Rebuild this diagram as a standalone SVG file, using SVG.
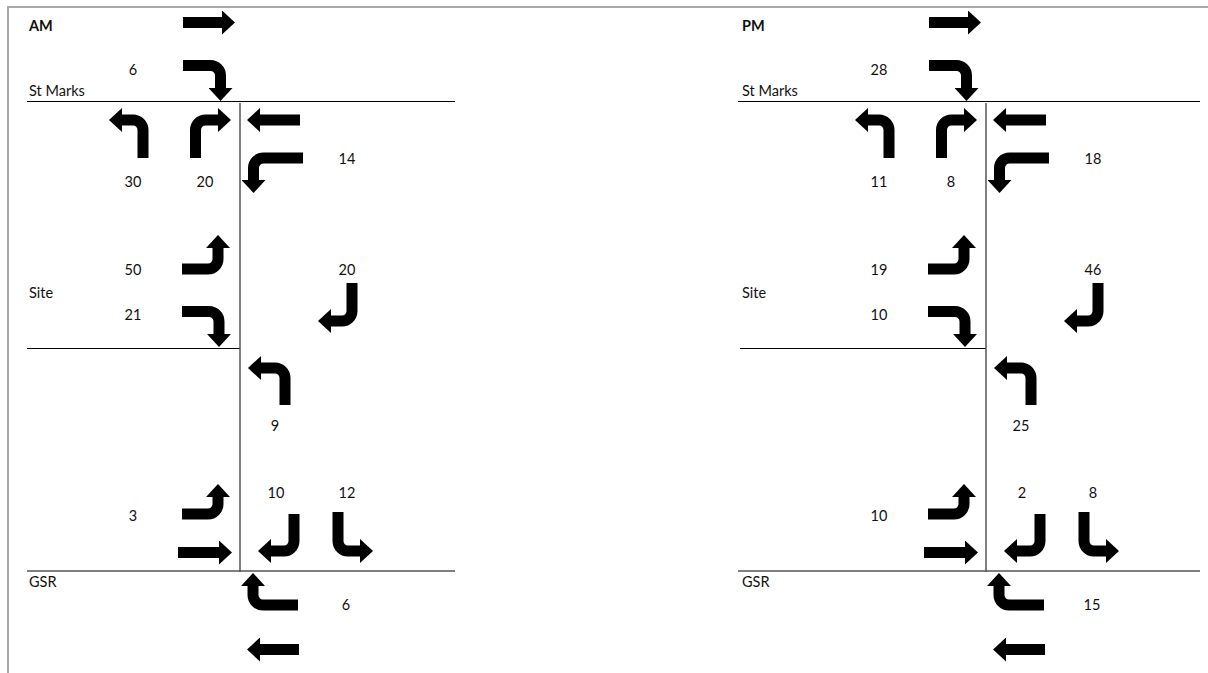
<svg xmlns="http://www.w3.org/2000/svg" width="1208" height="673" viewBox="0 0 1208 673">
<style>
.arr{fill:none;stroke:#000;stroke-width:11;stroke-linejoin:round;marker-end:url(#h)}
.road{stroke:#000;stroke-width:1.2}
.vroad{stroke:#555;stroke-width:1.5}
text{font-family:Lato,"Open Sans","Liberation Sans",sans-serif;font-size:14.5px;fill:#111}
.n{text-anchor:middle}
.t{font-weight:bold}
</style>
<defs>
<marker id="h" markerUnits="userSpaceOnUse" viewBox="0 0 13 24" markerWidth="13" markerHeight="24" refX="0" refY="12" orient="auto">
<path d="M0,0 L13,12 L0,24 z" fill="#000"/>
</marker>
</defs>
<rect width="1208" height="673" fill="#fff"/>
<g id="frame" stroke="#a8a8a8" stroke-width="2" fill="none">
<path d="M8,673 V7 H1208"/>
</g>

<g id="am">
<g id="am-roads">
<line class="road" x1="27" y1="101.5" x2="455" y2="101.5"/>
<line class="road" x1="27" y1="348.5" x2="240" y2="348.5"/>
<line class="road" x1="27" y1="571" x2="455" y2="571"/>
<line class="vroad" x1="240" y1="103" x2="240" y2="572"/>
</g>
<g id="am-labels">
<text class="t" x="29" y="31">AM</text>
<text x="29" y="96">St Marks</text>
<text x="29" y="298">Site</text>
<text x="29" y="587">GSR</text>
<text class="n" x="133" y="75">6</text>
<text class="n" x="133" y="187">30</text>
<text class="n" x="205" y="187">20</text>
<text class="n" x="347" y="164">14</text>
<text class="n" x="133" y="275">50</text>
<text class="n" x="347" y="275">20</text>
<text class="n" x="133" y="320">21</text>
<text class="n" x="275" y="431">9</text>
<text class="n" x="133" y="521">3</text>
<text class="n" x="276" y="498">10</text>
<text class="n" x="347" y="498">12</text>
<text class="n" x="346" y="610">6</text>
</g>
</g>

<g id="pm">
<g id="pm-roads">
<line class="road" x1="738" y1="101.5" x2="1200" y2="101.5"/>
<line class="road" x1="740" y1="348.5" x2="986" y2="348.5"/>
<line class="road" x1="738" y1="571" x2="1200" y2="571"/>
<line class="vroad" x1="986" y1="103" x2="986" y2="572"/>
</g>
<g id="pm-labels">
<text class="t" x="742" y="31">PM</text>
<text x="742" y="96">St Marks</text>
<text x="742" y="298">Site</text>
<text x="742" y="587">GSR</text>
<text class="n" x="879" y="75">28</text>
<text class="n" x="879" y="187">11</text>
<text class="n" x="951" y="187">8</text>
<text class="n" x="1093" y="164">18</text>
<text class="n" x="879" y="275">19</text>
<text class="n" x="1093" y="275">46</text>
<text class="n" x="879" y="320">10</text>
<text class="n" x="1021" y="431">25</text>
<text class="n" x="879" y="521">10</text>
<text class="n" x="1022" y="498">2</text>
<text class="n" x="1093" y="498">8</text>
<text class="n" x="1092" y="610">15</text>
</g>
</g>

<g id="connectors">
<g id="am-arrows">
<path class="arr" d="M183,22.5 H222"/>
<path class="arr" d="M183,65.5 H210.5 A10,10 0 0 1 220.5,75.5 V88"/>
<path class="arr" d="M143,158 V130 A10,10 0 0 0 133,120 H122"/>
<path class="arr" d="M195.5,158 V130 A10,10 0 0 1 205.5,120 H218"/>
<path class="arr" d="M300,120 H260"/>
<path class="arr" d="M303,158 H263.5 A10,10 0 0 0 253.5,168 V180"/>
<path class="arr" d="M182,269 H208 A10,10 0 0 0 218,259 V248"/>
<path class="arr" d="M182,311.5 H209 A10,10 0 0 1 219,321.5 V334"/>
<path class="arr" d="M352,283 V311 A10,10 0 0 1 342,321 H331"/>
<path class="arr" d="M285,405 V378 A10,10 0 0 0 275,368 H261"/>
<path class="arr" d="M182,514 H208 A10,10 0 0 0 218,504 V497"/>
<path class="arr" d="M178,552.5 H219"/>
<path class="arr" d="M294,514 V541 A10,10 0 0 1 284,551 H271"/>
<path class="arr" d="M338,512 V541 A10,10 0 0 0 348,551 H360"/>
<path class="arr" d="M298,605 H263 A10,10 0 0 1 253,595 V586"/>
<path class="arr" d="M299,649.5 H260"/>
</g>
<g id="pm-arrows" transform="translate(746,0)">
<path class="arr" d="M183,22.5 H222"/>
<path class="arr" d="M183,65.5 H210.5 A10,10 0 0 1 220.5,75.5 V88"/>
<path class="arr" d="M143,158 V130 A10,10 0 0 0 133,120 H122"/>
<path class="arr" d="M195.5,158 V130 A10,10 0 0 1 205.5,120 H218"/>
<path class="arr" d="M300,120 H260"/>
<path class="arr" d="M303,158 H263.5 A10,10 0 0 0 253.5,168 V180"/>
<path class="arr" d="M182,269 H208 A10,10 0 0 0 218,259 V248"/>
<path class="arr" d="M182,311.5 H209 A10,10 0 0 1 219,321.5 V334"/>
<path class="arr" d="M352,283 V311 A10,10 0 0 1 342,321 H331"/>
<path class="arr" d="M285,405 V378 A10,10 0 0 0 275,368 H261"/>
<path class="arr" d="M182,514 H208 A10,10 0 0 0 218,504 V497"/>
<path class="arr" d="M178,552.5 H219"/>
<path class="arr" d="M294,514 V541 A10,10 0 0 1 284,551 H271"/>
<path class="arr" d="M338,512 V541 A10,10 0 0 0 348,551 H360"/>
<path class="arr" d="M298,605 H263 A10,10 0 0 1 253,595 V586"/>
<path class="arr" d="M299,649.5 H260"/>
</g>
</g>
</svg>
